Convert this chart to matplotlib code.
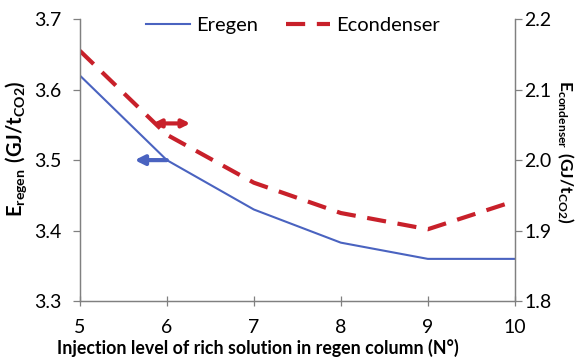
import matplotlib
matplotlib.use('Agg')
import matplotlib.pyplot as plt

# injection stage of rich solution and the two specific energies
stage = [5, 6, 7, 8, 9, 10]
e_regen = [3.62, 3.50, 3.43, 3.383, 3.36, 3.36]
e_condenser = [2.155, 2.036, 1.968, 1.925, 1.902, 1.942]

blue = '#4a63c0'
red = '#c8202a'

plt.rcParams['font.family'] = ['Lato', 'DejaVu Sans']
plt.rcParams['mathtext.fontset'] = 'custom'
plt.rcParams['mathtext.rm'] = 'Lato'
plt.rcParams['mathtext.bf'] = 'Lato:bold'

fig = plt.figure(figsize=(5.87, 3.59), dpi=100)
ax1 = fig.add_axes([0.136, 0.161, 0.741, 0.786])
ax2 = ax1.twinx()

l1, = ax1.plot(stage, e_regen, color=blue, lw=1.5, label='Eregen')
l2, = ax2.plot(stage, e_condenser, color=red, lw=3.0, dashes=(4.6, 2.8), label='Econdenser')

ax1.set_xlim(5, 10)
ax1.set_ylim(3.3, 3.7)
ax2.set_ylim(1.8, 2.2)
ax1.set_yticks([3.3, 3.4, 3.5, 3.6, 3.7])
ax2.set_yticks([1.8, 1.9, 2.0, 2.1, 2.2])
ax2.set_yticklabels(['1.8', '1.9', '2.0', '2.1', '2.2'])

for ax in (ax1, ax2):
    ax.spines['top'].set_visible(False)
    for s in ax.spines.values():
        s.set_color('#808080')
        s.set_linewidth(0.9)
    ax.tick_params(labelsize=14, color='#808080', length=5, width=0.9)
ax1.tick_params(axis='y', pad=8)
ax2.tick_params(axis='y', pad=2)
ax1.tick_params(axis='x', direction='inout', length=7, pad=9)

ax1.set_xlabel('Injection level of rich solution in regen column (N°)',
               fontsize=12.8, fontweight='bold')
ax1.xaxis.set_label_coords(0.41, -0.135)
ax1.set_ylabel(r'$\mathbf{E_{regen}\ (GJ/t_{CO2})}$', fontsize=14.5)
ax1.yaxis.set_label_coords(-0.118, 0.54)
ax2.set_ylabel(r'$\mathbf{E_{condenser}\ (GJ/t_{CO2})}$', fontsize=12.5, rotation=270)
ax2.yaxis.set_label_coords(1.14, 0.53)

# arrows pointing each curve to its own axis
ax1.annotate('', xy=(5.63, 3.50), xytext=(6.0, 3.50),
             arrowprops=dict(arrowstyle='-|>', color=blue, lw=3, mutation_scale=14,
                             shrinkA=0, shrinkB=0))
ax2.annotate('', xy=(5.84, 2.052), xytext=(6.27, 2.052),
             arrowprops=dict(arrowstyle='<|-|>', color=red, lw=3, mutation_scale=11,
                             shrinkA=0, shrinkB=0))

ax1.legend(handles=[l1, l2], loc='upper center', bbox_to_anchor=(0.49, 1.07),
           ncol=2, frameon=False, fontsize=14.5, handlelength=2.2,
           columnspacing=1.4, handletextpad=0.3)

fig.savefig('out.png', dpi=100)
